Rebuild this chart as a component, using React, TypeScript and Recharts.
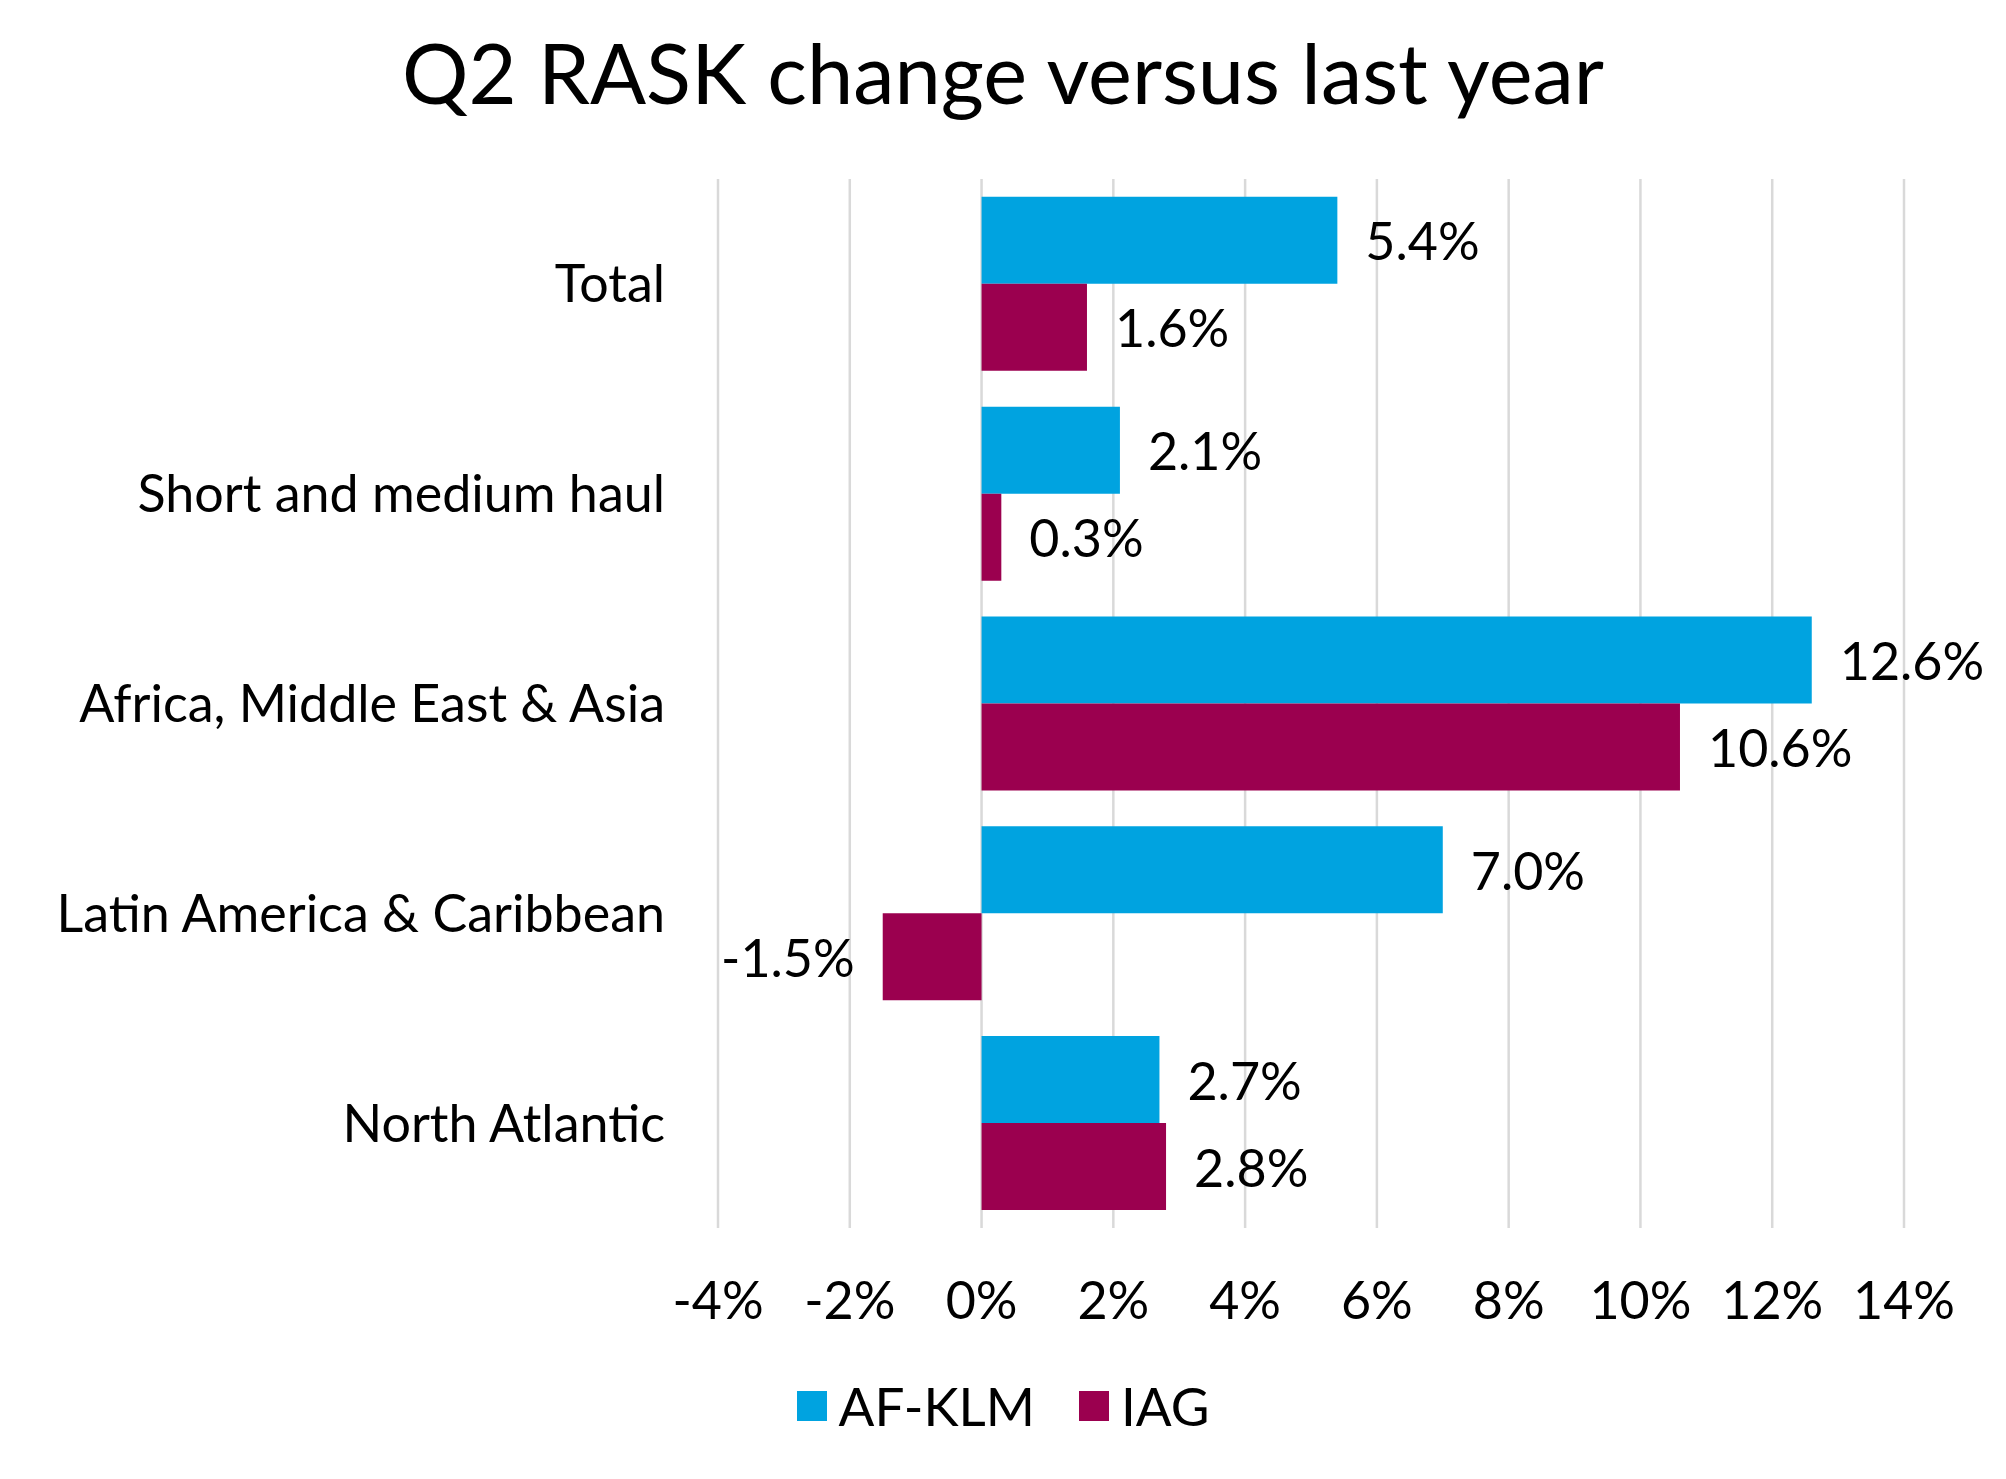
import React from "react";
import { BarChart, Bar, XAxis, YAxis, CartesianGrid, LabelList } from "recharts";

const categories = ["Total", "Short and medium haul", "Africa, Middle East & Asia", "Latin America & Caribbean", "North Atlantic"];
const afklm = [5.4, 2.1, 12.6, 7.0, 2.7];
const iag = [1.6, 0.3, 10.6, -1.5, 2.8];
const ticks = [-4, -2, 0, 2, 4, 6, 8, 10, 12, 14];

const data = categories.map((name, i) => ({ name, afklm: afklm[i], iag: iag[i] }));

const BLUE = "#00A3E0";
const RED = "#9B004F";
const FONT = "Lato, 'Noto Sans', sans-serif";

const ValueLabel = (props: any) => {
  const { x, y, width, height, value } = props;
  const left = Math.min(x, x + width);
  const right = Math.max(x, x + width);
  const neg = value < 0;
  return (
    <text
      x={neg ? left - 28 : right + 28}
      y={y + height / 2}
      textAnchor={neg ? "end" : "start"}
      dominantBaseline="central"
      fontSize={52}
      fontFamily={FONT}
      fill="#000"
    >
      {value.toFixed(1)}%
    </text>
  );
};

export default function App() {
  return (
    <div style={{ width: 1990, height: 1463, position: "relative", fontFamily: FONT, background: "#fff" }}>
      <div style={{ position: "absolute", top: 14, left: 0, width: 1990, textAlign: "center", fontSize: 83, color: "#000" }}>
        Q2 RASK change versus last year
      </div>
      <div style={{ position: "absolute", top: 0, left: 0 }}>
        <BarChart
          layout="vertical"
          data={data}
          width={1990}
          height={1320}
          margin={{ top: 171, right: 94, bottom: 0, left: 0 }}
          barCategoryGap="8.5%"
          barGap={0}
        >
          <CartesianGrid horizontal={false} stroke="#d9d9d9" strokeWidth={2.5} />
          <XAxis
            type="number"
            domain={[-4, 14]}
            ticks={ticks}
            tickFormatter={(v) => `${v}%`}
            axisLine={false}
            tickLine={false}
            height={100}
            tick={{ fontSize: 52, fontFamily: FONT, fill: "#000" }}
            tickMargin={48}
          />
          <YAxis
            type="category"
            dataKey="name"
            width={710}
            axisLine={false}
            tickLine={false}
            tick={{ fontSize: 52, fontFamily: FONT, fill: "#000" }}
            tickMargin={47}
          />
          <Bar dataKey="afklm" fill={BLUE} isAnimationActive={false}>
            <LabelList dataKey="afklm" content={ValueLabel} />
          </Bar>
          <Bar dataKey="iag" fill={RED} isAnimationActive={false}>
            <LabelList dataKey="iag" content={ValueLabel} />
          </Bar>
        </BarChart>
      </div>
      <div style={{ position: "absolute", top: 1366, left: 0, width: 1990, display: "flex", justifyContent: "center", alignItems: "center", fontSize: 53, color: "#000" }}>
        <span style={{ width: 30, height: 30, background: BLUE, display: "inline-block", marginRight: 12 }} />
        <span style={{ marginRight: 44 }}>AF-KLM</span>
        <span style={{ width: 30, height: 30, background: RED, display: "inline-block", marginRight: 12 }} />
        <span>IAG</span>
      </div>
    </div>
  );
}
